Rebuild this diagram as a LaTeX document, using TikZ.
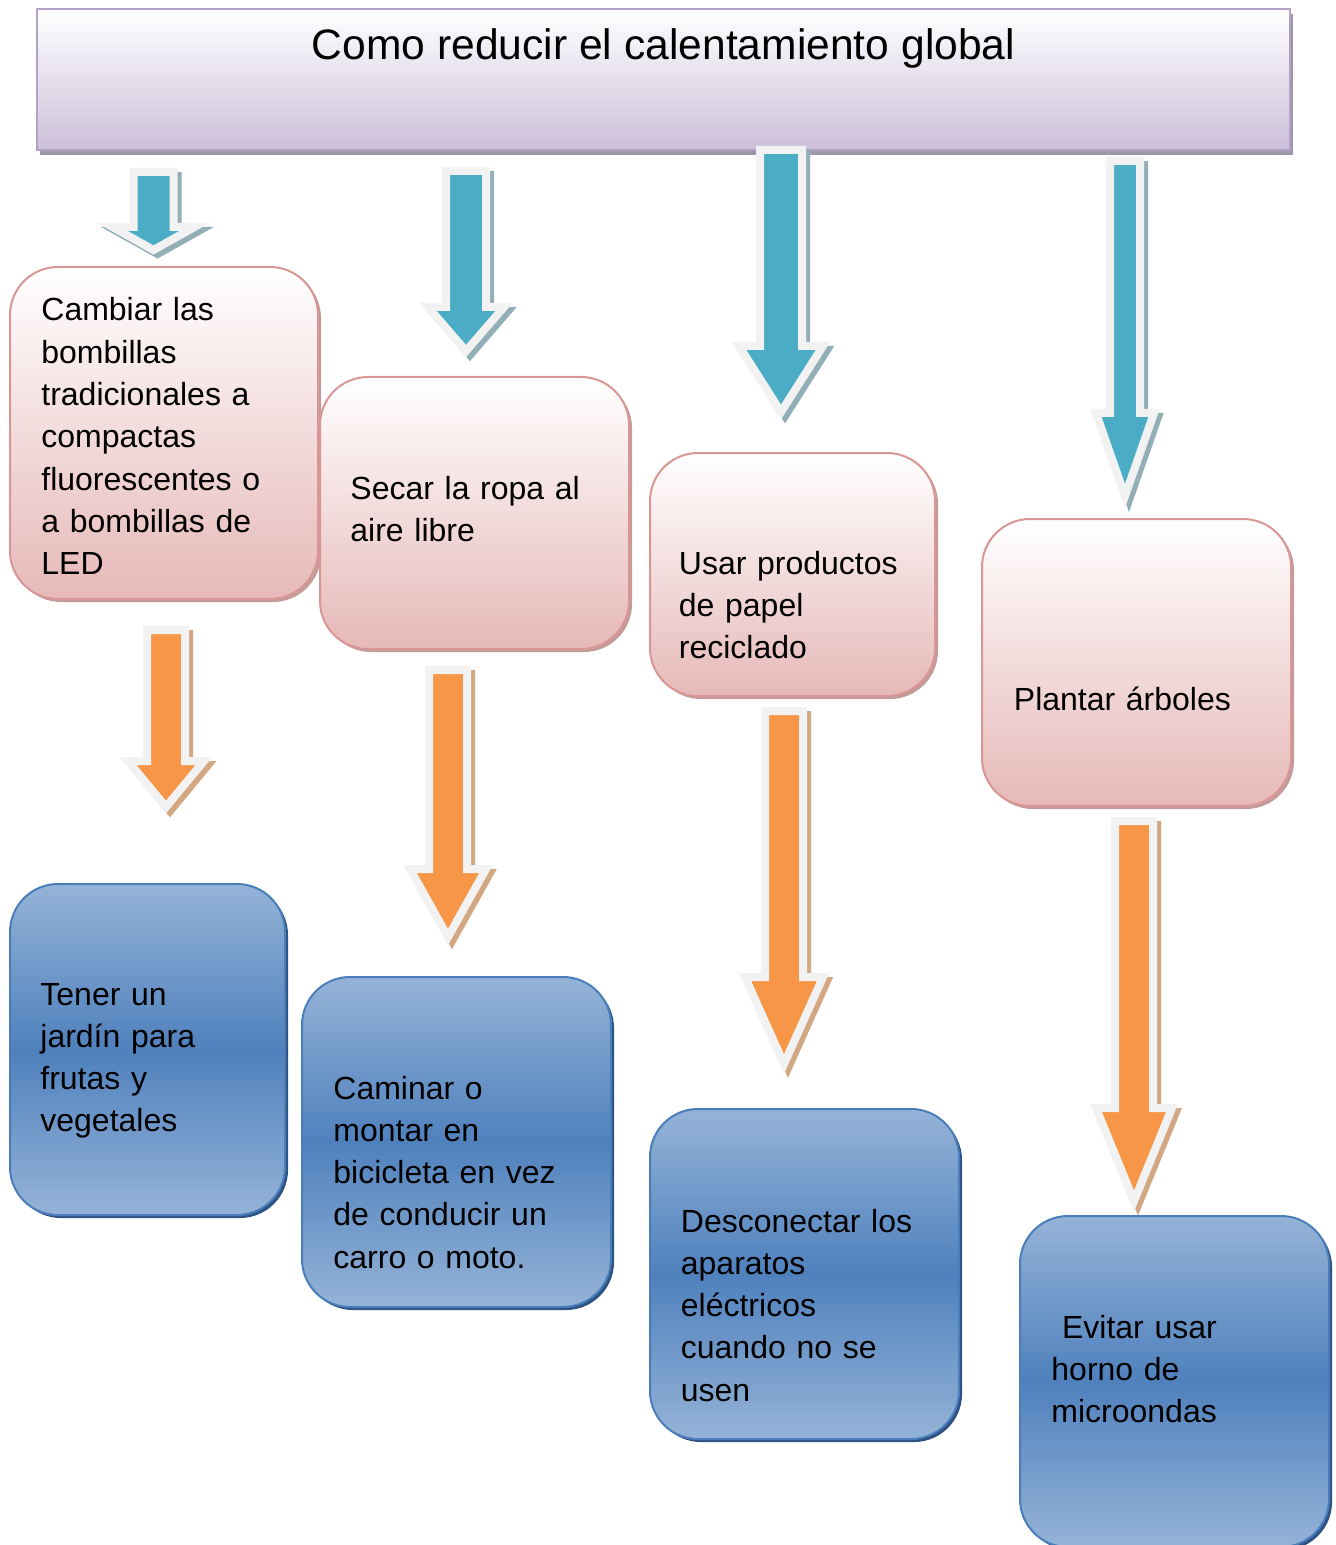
\documentclass[tikz,border=0pt]{standalone}
\usepackage{fontspec}
\setmainfont{Liberation Sans}
\usetikzlibrary{shadows}

\definecolor{tituloabajo}{HTML}{CCC0DA}
\definecolor{tituloborde}{HTML}{B3A2C7}
\definecolor{titulosombra}{HTML}{9D96A8}
\definecolor{rosaabajo}{HTML}{E6B9B8}
\definecolor{rosaborde}{HTML}{D99694}
\definecolor{rosasombra}{HTML}{C29C9B}
\definecolor{azulclaro}{HTML}{95B3D7}
\definecolor{azuloscuro}{HTML}{4F81BD}
\definecolor{azulborde}{HTML}{4A7EBB}
\definecolor{azulsombra}{HTML}{2E5382}
\definecolor{flechaazul}{HTML}{4BACC6}
\definecolor{sombraazul}{HTML}{92AFB8}
\definecolor{flechanaranja}{HTML}{F79646}
\definecolor{sombranaranja}{HTML}{D3A782}
\definecolor{bordeflecha}{HTML}{F2F2F2}

\tikzset{
  titulo/.style={rectangle, draw=tituloborde, line width=1pt,
    top color=white, bottom color=tituloabajo,
    drop shadow={shadow xshift=1.5pt, shadow yshift=-2.5pt, fill=titulosombra, opacity=1}},
  rosa/.style={rectangle, rounded corners=24pt, draw=rosaborde, line width=1pt,
    top color=white, bottom color=rosaabajo,
    drop shadow={shadow xshift=1.5pt, shadow yshift=-1.5pt, fill=rosasombra, opacity=1}},
  azul/.style={rectangle, rounded corners=24pt, draw=azulborde, line width=1pt,
    top color=azulclaro, bottom color=azulclaro, middle color=azuloscuro,
    drop shadow={shadow xshift=1.5pt, shadow yshift=-1.5pt, fill=azulsombra, opacity=1}},
  texto/.style={anchor=base west, inner sep=0pt, text width=150pt, align=left,
    font=\fontsize{16pt}{21.15pt}\selectfont},
  flecha/.style={line width=4pt, draw=bordeflecha, line join=miter},
}

\begin{document}
\begin{tikzpicture}[x=0.5pt, y=-0.5pt]
\useasboundingbox (0,0) rectangle (1335,1545);
\clip (0,0) rectangle (1335,1545);
\fill[white] (0,0) rectangle (1335,1545);

% titulo
\node[titulo, minimum width=626.5pt, minimum height=70.5pt] (tit) at (663.5,79.5) {};
\node[anchor=base, inner sep=0pt, font=\fontsize{21.3pt}{26pt}\selectfont] (tt) at (663.5,60)
  {Como reducir el calentamiento global};

% flechas azules
\foreach \x/\ya/\a/\yb/\b/\yc in {153.5/172/20/227/41/250, 466/171/20/307/38/351,
    781/150/21/346/42/412, 1125/161/15/413/29/496}
{   \filldraw[flecha, draw=sombraazul, fill=sombraazul, shift={(4,4)}]
      ({\x-\a},\ya) -- ({\x+\a},\ya) -- ({\x+\a},\yb) -- ({\x+\b},\yb) -- (\x,\yc)
      -- ({\x-\b},\yb) -- ({\x-\a},\yb) -- cycle;
    \filldraw[flecha, fill=flechaazul]
      ({\x-\a},\ya) -- ({\x+\a},\ya) -- ({\x+\a},\yb) -- ({\x+\b},\yb) -- (\x,\yc)
      -- ({\x-\b},\yb) -- ({\x-\a},\yb) -- cycle;
}

% cajas rosas
\node[rosa, minimum width=154pt, minimum height=166pt] (b1) at (164,433) {};
\node[rosa, minimum width=154.5pt, minimum height=136pt] (b2) at (474.5,513) {};
\node[rosa, minimum width=142.5pt, minimum height=121.5pt] (b3) at (792.5,574.5) {};
\node[rosa, minimum width=154.5pt, minimum height=143.5pt] (b4) at (1136.5,662.5) {};

\node[texto] (t1) at (41,321) {Cambiar las\\bombillas\\tradicionales a\\compactas\\fluorescentes o\\a bombillas de\\LED};
\node[texto] (t2) at (350,499) {Secar la ropa al\\aire libre};
\node[texto] (t3) at (678.5,574) {Usar productos\\de papel\\reciclado};
\node[texto] (t4) at (1013.5,710) {Plantar árboles};

% flechas naranjas
\foreach \x/\ya/\a/\yb/\b/\yc in {166/630/19/761/38/807, 448/670/19/869/38/937,
    784/711/19/977/39/1064, 1134/821/19/1108/38/1201}
{   \filldraw[flecha, draw=sombranaranja, fill=sombranaranja, shift={(4,4)}]
      ({\x-\a},\ya) -- ({\x+\a},\ya) -- ({\x+\a},\yb) -- ({\x+\b},\yb) -- (\x,\yc)
      -- ({\x-\b},\yb) -- ({\x-\a},\yb) -- cycle;
    \filldraw[flecha, fill=flechanaranja]
      ({\x-\a},\ya) -- ({\x+\a},\ya) -- ({\x+\a},\yb) -- ({\x+\b},\yb) -- (\x,\yc)
      -- ({\x-\b},\yb) -- ({\x-\a},\yb) -- cycle;
}

% cajas azules
\node[azul, minimum width=137.5pt, minimum height=165.5pt] (c1) at (147.5,1049.5) {};
\node[azul, minimum width=154.5pt, minimum height=165pt] (c2) at (456.5,1142) {};
\node[azul, minimum width=154.5pt, minimum height=165pt] (c3) at (804.5,1274) {};
\node[azul, minimum width=154.5pt, minimum height=165.5pt] (c4) at (1174.5,1381.5) {};

\node[texto] (u1) at (40,1005) {Tener un\\jardín para\\frutas y\\vegetales};
\node[texto] (u2) at (333,1099) {Caminar o\\montar en\\bicicleta en vez\\de conducir un\\carro o moto.};
\node[texto] (u3) at (680.5,1232) {Desconectar los\\aparatos\\eléctricos\\cuando no se\\usen};
\node[texto] (u4) at (1051,1338) {\ Evitar usar\\horno de\\microondas};
\end{tikzpicture}
\end{document}
